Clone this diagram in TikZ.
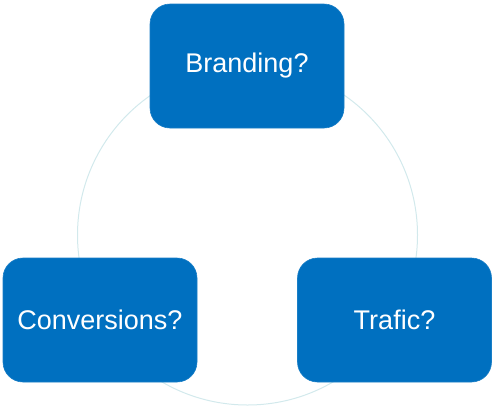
\documentclass[tikz,border=0pt]{standalone}
\usepackage{fontspec}
\setmainfont{Liberation Sans}
\definecolor{boxblue}{HTML}{0070C0}
\definecolor{ringcol}{HTML}{D2E9EC}
\tikzset{
  qbox/.style={draw=boxblue!90!white, line width=0.6pt, fill=boxblue, rounded corners=20pt,
    minimum width=194pt, minimum height=124pt, inner sep=0pt,
    text=white, font=\fontsize{27}{31}\selectfont},
  ring/.style={draw=ringcol, line width=1pt}
}
\begin{document}
\begin{tikzpicture}[x=1pt,y=-1pt]
\useasboundingbox (0,0) rectangle (500,413);
\coordinate (c) at (247.5,235);
\draw[ring] (c) circle[radius=170];
\node[qbox] (branding) at (247,66) {Branding?};
\node[qbox] (conv) at (100,320) {Conversions?};
\node[qbox] (trafic) at (394.5,320) {Trafic?};
\end{tikzpicture}
\end{document}
